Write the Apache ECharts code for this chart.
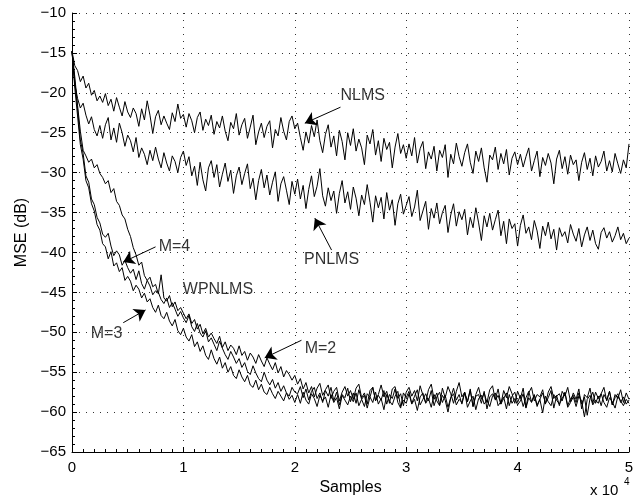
<!DOCTYPE html>
<html><head><meta charset="utf-8">
<script src="https://cdn.jsdelivr.net/npm/echarts@6/dist/echarts.min.js"></script>
<style>html,body{margin:0;padding:0;background:#fff}#c{width:643px;height:503px}</style>
</head><body><div id="c"></div>
<script>
// sample spacing in units of 10^4 samples
const xStep = 0.025;

const nlms = [
-14.8,-16.6,-17.2,-18.6,-17.9,-19.4,-18.8,-20.3,-19.7,-21.0,-20.4,
-21.2,-20.1,-21.6,-20.8,-22.3,-20.6,-21.8,-22.9,-21.1,-22.4,
-23.1,-21.9,-22.6,-24.2,-22.0,-23.4,-21.0,-22.8,-25.1,-23.0,
-22.2,-24.0,-22.9,-23.8,-24.6,-22.5,-23.6,-21.4,-23.2,-22.7,
-24.3,-22.6,-23.5,-25.0,-23.1,-22.4,-24.7,-23.3,-24.1,-22.8,
-25.2,-23.6,-24.4,-22.9,-24.8,-26.0,-23.7,-24.5,-22.6,-25.3,
-24.0,-23.2,-25.7,-24.3,-22.8,-26.5,-24.9,-23.8,-25.6,-24.2,
-23.5,-26.9,-24.6,-25.4,-23.1,-24.8,-25.9,-23.6,-22.9,-24.5,
-23.8,-25.6,-27.2,-24.9,-26.3,-24.1,-25.5,-23.4,-26.0,-27.5,
-25.2,-24.0,-26.8,-25.4,-27.9,-24.7,-26.1,-28.4,-25.0,-26.6,
-24.5,-27.3,-25.8,-26.9,-29.0,-25.3,-26.4,-24.6,-27.8,-26.0,
-28.6,-25.7,-27.1,-26.2,-29.4,-26.8,-25.1,-27.6,-26.5,-28.2,
-26.4,-27.9,-25.6,-28.8,-27.0,-26.1,-29.5,-27.4,-28.3,-26.7,
-29.8,-27.2,-28.1,-26.5,-30.6,-27.7,-28.9,-26.3,-28.0,-29.2,
-27.5,-26.4,-28.7,-30.1,-27.3,-28.6,-26.9,-29.4,-31.2,-27.8,
-28.4,-26.8,-29.6,-27.6,-28.9,-27.1,-30.3,-28.2,-27.4,-29.0,
-27.7,-29.3,-28.0,-26.9,-29.8,-28.5,-27.3,-30.5,-28.1,-29.1,
-27.6,-28.8,-31.4,-28.3,-27.2,-29.5,-28.0,-30.2,-27.8,-29.0,
-28.4,-31.0,-28.7,-27.5,-29.6,-28.2,-30.4,-27.9,-29.3,-28.6,
-27.3,-29.8,-28.5,-29.9,-27.6,-28.9,-30.1,-28.4,-29.4,-26.4
];

const pnlms = [
-14.8,-18.9,-20.7,-21.9,-21.3,-22.8,-23.9,-23.0,-24.6,-25.4,-24.1,
-25.7,-24.0,-23.1,-25.9,-24.4,-26.2,-23.8,-25.0,-26.7,-25.3,
-26.0,-27.4,-25.6,-28.1,-26.9,-27.7,-29.0,-27.2,-28.5,-26.8,
-28.3,-29.4,-27.5,-28.8,-29.8,-27.9,-28.6,-30.0,-28.1,-27.3,
-29.1,-28.0,-30.4,-29.2,-31.6,-28.7,-30.9,-32.3,-29.4,-28.5,
-30.6,-29.0,-31.8,-30.2,-28.8,-31.1,-29.7,-32.6,-30.4,-29.3,
-31.5,-30.1,-28.9,-32.0,-30.7,-33.4,-31.0,-29.6,-31.9,-30.3,
-32.8,-31.2,-29.9,-33.6,-31.4,-30.5,-32.2,-34.0,-31.1,-32.7,
-30.8,-33.3,-31.6,-34.5,-32.1,-30.4,-33.0,-31.7,-29.5,-32.9,
-34.2,-31.9,-33.5,-32.3,-35.1,-32.6,-31.0,-33.8,-32.4,-34.6,
-31.8,-33.2,-35.4,-32.8,-34.0,-31.5,-33.7,-36.2,-32.9,-34.4,
-33.1,-35.8,-32.5,-34.7,-33.4,-36.6,-33.9,-32.7,-35.2,-34.1,
-33.0,-35.5,-34.3,-32.2,-36.0,-34.8,-33.6,-37.1,-34.5,-35.7,
-33.8,-36.4,-35.0,-34.1,-37.5,-35.3,-33.9,-36.7,-34.9,-35.9,
-34.6,-37.8,-35.6,-36.9,-34.4,-36.3,-38.5,-35.4,-36.8,-35.1,
-37.2,-35.9,-34.7,-37.9,-36.1,-38.9,-35.8,-37.0,-36.4,-39.2,
-36.6,-35.3,-37.6,-36.8,-38.4,-36.0,-37.3,-39.5,-36.7,-37.9,
-36.2,-38.3,-37.1,-39.7,-36.9,-38.0,-37.4,-38.8,-36.5,-37.7,
-38.6,-37.0,-39.3,-37.8,-36.8,-38.5,-37.2,-38.9,-39.6,-37.5,
-36.9,-38.2,-37.4,-38.7,-37.9,-36.8,-38.4,-37.6,-38.9,-38.2
];

const wpM2 = [
-14.8,-18.0,-21.6,-24.8,-27.2,-27.9,-28.7,-28.3,-29.4,-29.0,-30.1,
-30.6,-31.4,-31.0,-32.5,-32.0,-33.6,-34.1,-35.3,-35.8,-37.1,
-38.0,-39.4,-40.3,-41.6,-41.2,-42.9,-43.5,-43.1,-44.3,-44.0,
-45.2,-42.8,-45.7,-46.1,-45.4,-46.8,-46.2,-47.3,-46.9,-47.6,
-48.3,-47.7,-48.9,-48.4,-49.6,-49.0,-50.2,-49.5,-50.6,-50.1,
-50.8,-51.4,-50.5,-51.9,-51.2,-52.3,-51.6,-52.0,-52.8,-51.7,
-52.9,-52.4,-53.5,-52.6,-53.1,-53.9,-52.8,-53.6,-54.3,-53.2,
-54.0,-54.7,-53.8,-55.1,-54.3,-55.6,-54.8,-55.3,-56.0,-55.4,
-56.5,-55.8,-57.1,-56.3,-57.6,-56.8,-58.1,-57.0,-56.4,-57.9,
-57.2,-56.6,-58.3,-57.4,-56.9,-58.6,-57.5,-56.8,-58.0,-57.3,
-58.4,-57.0,-56.5,-58.2,-57.6,-59.0,-57.3,-56.9,-58.5,-57.8,
-56.6,-58.1,-57.4,-58.9,-57.1,-56.8,-58.3,-57.7,-59.2,-57.5,
-56.9,-58.0,-57.3,-58.6,-56.7,-57.9,-58.8,-57.2,-56.5,-58.4,
-57.6,-59.1,-57.0,-58.2,-56.8,-57.7,-58.9,-57.4,-56.3,-58.1,
-57.5,-58.7,-57.1,-59.3,-57.8,-56.9,-58.4,-57.6,-58.8,-57.2,
-56.7,-58.5,-57.9,-59.0,-57.3,-58.2,-56.8,-57.7,-58.9,-57.4,
-58.3,-57.0,-59.4,-57.6,-56.9,-58.6,-57.8,-58.1,-57.2,-59.0,
-57.5,-56.8,-58.3,-57.9,-59.2,-57.4,-58.0,-56.9,-58.7,-57.6,
-58.4,-57.1,-59.6,-57.8,-58.2,-57.0,-58.9,-57.5,-58.3,-57.7,
-56.9,-58.6,-57.4,-59.1,-57.8,-58.3,-57.2,-58.8,-57.6,-58.4
];

const wpM4 = [
-14.8,-18.6,-22.0,-25.9,-27.6,-30.4,-31.2,-33.3,-34.0,-35.6,-36.3,
-37.7,-38.1,-37.6,-39.2,-40.4,-39.8,-40.3,-41.6,-41.0,-41.9,
-42.6,-42.1,-43.4,-42.3,-43.9,-44.6,-43.5,-44.2,-45.3,-44.8,
-45.0,-45.9,-46.4,-45.7,-46.9,-46.3,-47.1,-48.0,-47.4,-48.2,
-48.8,-47.9,-49.3,-49.9,-48.9,-50.1,-50.6,-49.8,-51.2,-50.7,
-51.5,-52.3,-51.1,-52.0,-52.8,-53.4,-52.4,-53.1,-53.9,-53.3,
-54.4,-53.8,-54.9,-55.3,-54.2,-55.1,-55.8,-56.2,-55.0,-56.0,
-56.6,-55.9,-57.0,-56.3,-57.4,-56.7,-57.6,-58.0,-56.9,-57.5,
-57.7,-56.8,-58.2,-57.1,-58.5,-57.4,-56.9,-58.3,-57.6,-58.8,
-57.3,-58.0,-56.9,-58.6,-57.5,-59.1,-57.8,-58.2,-57.0,-58.7,
-57.6,-58.9,-57.2,-58.4,-59.3,-57.7,-58.1,-56.9,-58.6,-57.9,
-58.5,-57.3,-59.0,-57.8,-58.3,-57.1,-58.8,-59.5,-57.6,-58.2,
-57.4,-58.9,-58.0,-57.2,-59.1,-58.4,-57.7,-58.6,-57.3,-59.2,
-58.1,-57.5,-58.8,-57.9,-59.4,-58.2,-57.0,-58.5,-57.8,-59.0,
-57.6,-58.7,-57.3,-59.3,-58.0,-57.8,-58.9,-57.4,-59.6,-58.1,
-57.7,-58.4,-57.1,-59.0,-58.3,-57.6,-59.2,-58.0,-57.5,-58.8,
-57.9,-59.3,-58.2,-57.4,-58.7,-57.8,-59.1,-58.4,-57.6,-58.9,
-58.2,-57.3,-59.5,-58.0,-57.7,-58.6,-57.5,-59.2,-58.3,-57.9,
-58.8,-57.6,-59.0,-58.1,-60.4,-58.3,-57.5,-58.9,-58.0,-59.2,
-57.8,-58.5,-57.4,-59.1,-58.2,-57.7,-58.8,-58.1,-59.0,-58.5
];

const wpM3 = [
-14.8,-19.4,-22.9,-26.5,-28.3,-31.0,-31.9,-33.9,-34.8,-36.5,-37.2,
-38.9,-39.3,-40.8,-39.9,-41.7,-41.3,-42.4,-41.9,-43.5,-43.0,
-43.6,-44.8,-44.1,-44.6,-45.7,-45.1,-46.2,-45.8,-46.9,-47.5,
-46.6,-47.9,-48.3,-47.5,-48.6,-49.2,-48.4,-49.8,-50.3,-49.5,
-50.6,-51.1,-50.3,-51.8,-51.2,-52.4,-51.7,-52.9,-53.4,-52.2,
-53.3,-54.0,-53.1,-54.5,-53.8,-55.0,-54.3,-55.4,-55.8,-54.7,
-55.6,-56.2,-55.4,-56.6,-56.9,-56.0,-57.2,-56.5,-57.5,-57.8,
-56.9,-57.7,-58.3,-57.4,-58.0,-58.6,-57.6,-58.4,-57.9,-58.8,
-57.8,-58.9,-57.5,-58.5,-59.0,-57.7,-58.3,-59.3,-57.9,-58.6,
-58.1,-59.4,-57.8,-58.8,-58.2,-59.6,-57.9,-58.5,-59.1,-58.0,
-58.7,-57.6,-59.2,-58.4,-57.9,-59.5,-58.1,-58.8,-57.5,-59.0,
-58.3,-59.7,-57.8,-58.6,-59.1,-58.0,-57.4,-59.3,-58.5,-58.9,
-57.7,-59.0,-58.4,-59.8,-58.1,-57.6,-58.9,-58.3,-59.4,-57.8,
-58.6,-59.2,-57.9,-58.5,-60.0,-58.2,-57.7,-59.1,-58.4,-58.8,
-57.5,-59.4,-58.6,-58.0,-59.7,-58.3,-57.9,-59.0,-58.5,-59.3,
-58.0,-57.6,-59.2,-58.7,-58.1,-59.6,-57.8,-58.9,-58.3,-59.1,
-58.6,-57.7,-59.5,-58.2,-58.8,-57.9,-59.3,-58.4,-60.1,-58.0,
-58.7,-59.2,-57.8,-58.5,-59.0,-58.3,-57.6,-59.4,-58.8,-58.1,
-59.3,-58.0,-58.6,-60.6,-58.4,-57.9,-59.1,-58.5,-58.9,-57.7,
-58.8,-59.4,-58.2,-58.7,-59.5,-58.0,-58.6,-59.2,-58.4,-58.9
];

const xTicks = [0, 1, 2, 3, 4, 5];
const yTicks = [-65, -60, -55, -50, -45, -40, -35, -30, -25, -20, -15, -10];

// annotation texts (data coordinates)
const labelNames = ['NLMS', 'PNLMS', 'M=4', 'WPNLMS', 'M=3', 'M=2'];
const labelX = [2.61, 2.33, 0.92, 1.31, 0.31, 2.23];
const labelY = [-20.3, -40.9, -39.3, -44.7, -50.2, -52.0];
// annotation arrows (data coordinates): tail -> head
const arrowFrom = [[2.41, -21.8], [2.33, -39.7], [0.75, -39.3], [0.46, -48.8], [2.06, -51.0]];
const arrowTo = [[2.09, -23.8], [2.18, -35.7], [0.46, -41.2], [0.66, -47.2], [1.73, -53.2]];

function pairs(arr) { return arr.map((v, i) => [+(i * xStep).toFixed(3), v]); }
const minus = v => (v < 0 ? '\u2212' + Math.abs(v) : String(v));
const FONT = 'Liberation Sans, Arial, Helvetica, sans-serif';

const lineSeries = (name, arr) => ({
  name, type: 'line', data: pairs(arr), showSymbol: false, symbol: 'none',
  lineStyle: { color: '#000', width: 1 }, silent: true, animation: false, z: 3
});

const chart = echarts.init(document.getElementById('c'), null, { renderer: 'canvas' });
chart.setOption({
  backgroundColor: '#fff',
  animation: false,
  grid: { left: 72, top: 13, width: 557, height: 439, containLabel: false },
  xAxis: {
    type: 'value', min: 0, max: 5, interval: 1,
    name: 'Samples', nameLocation: 'middle', nameGap: 27,
    nameTextStyle: { color: '#000', fontSize: 16, fontFamily: FONT },
    axisLine: { onZero: false, lineStyle: { color: '#000', width: 1 } },
    axisTick: { inside: true, length: 5, lineStyle: { color: '#000' } },
    minorTick: { show: true, splitNumber: 10, length: 3, lineStyle: { color: '#000' } },
    axisLabel: { color: '#000', fontSize: 15, fontFamily: FONT, margin: 8, formatter: v => (xTicks.includes(v) ? String(v) : '') },
    splitLine: { show: true, lineStyle: { color: '#333', type: [1, 6], width: 1 } }
  },
  yAxis: {
    type: 'value', min: -65, max: -10, interval: 5,
    name: 'MSE (dB)', nameLocation: 'middle', nameGap: 39,
    nameTextStyle: { color: '#000', fontSize: 16, fontFamily: FONT },
    axisLine: { show: true, onZero: false, lineStyle: { color: '#000', width: 1 } },
    axisTick: { show: true, inside: true, length: 5, lineStyle: { color: '#000' } },
    minorTick: { show: true, splitNumber: 5, length: 3, lineStyle: { color: '#000' } },
    axisLabel: { color: '#000', fontSize: 15, fontFamily: FONT, margin: 6, formatter: v => (yTicks.includes(v) ? minus(v) : '') },
    splitLine: { show: true, lineStyle: { color: '#333', type: [1, 6], width: 1 } }
  },
  graphic: [
    { type: 'text', left: 590, top: 483, style: { text: 'x 10', fill: '#000', font: '15px ' + FONT } },
    { type: 'text', left: 624, top: 477, style: { text: '4', fill: '#000', font: '10px ' + FONT } }
  ],
  series: [
    lineSeries('NLMS', nlms),
    lineSeries('PNLMS', pnlms),
    lineSeries('WPNLMS M=2', wpM2),
    lineSeries('WPNLMS M=4', wpM4),
    lineSeries('WPNLMS M=3', wpM3),
    {
      name: 'labels', type: 'scatter', symbol: 'circle', symbolSize: 0, silent: true, z: 5,
      data: labelNames.map((n, i) => ({ name: n, value: [labelX[i], labelY[i]] })),
      label: { show: true, position: 'inside', formatter: p => p.name, color: '#000', fontSize: 16, fontFamily: FONT },
      itemStyle: { color: 'transparent' }
    },
    {
      name: 'arrows', type: 'line', data: [], silent: true, z: 6,
      markLine: {
        silent: true, animation: false, symbol: ['none', 'arrow'], symbolSize: 11,
        label: { show: false },
        lineStyle: { color: '#000', width: 1, type: 'solid' },
        data: arrowFrom.map((f, i) => [{ coord: f }, { coord: arrowTo[i] }])
      }
    }
  ]
});
</script>
</body></html>
